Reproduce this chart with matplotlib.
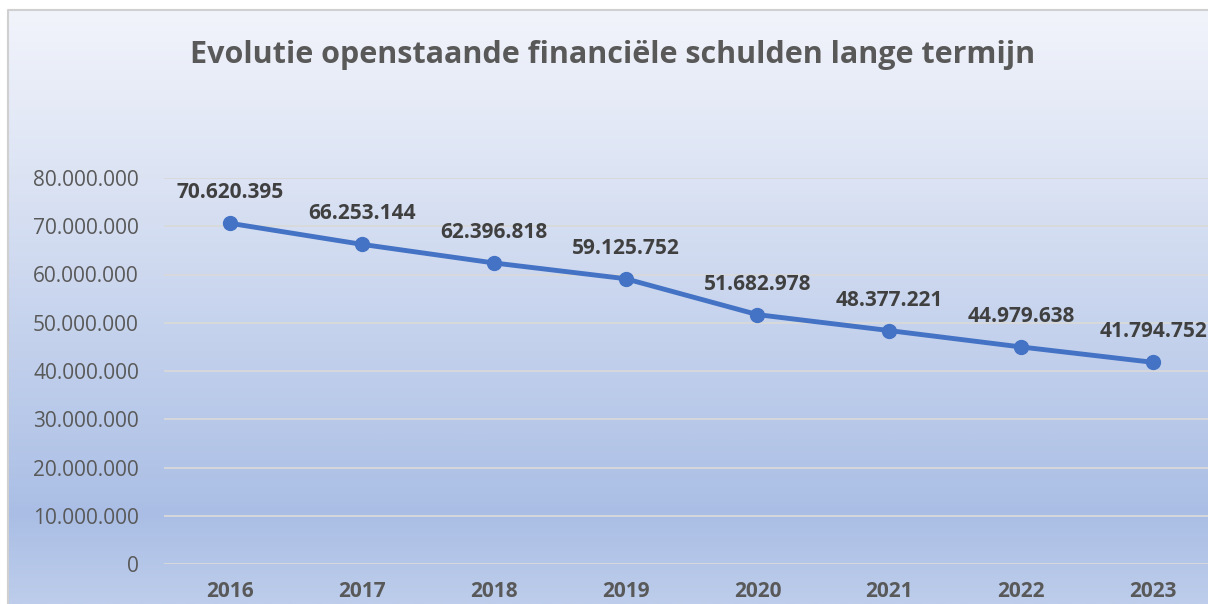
import numpy as np
import matplotlib
matplotlib.use("Agg")
import matplotlib.pyplot as plt
from matplotlib.colors import LinearSegmentedColormap
from matplotlib.ticker import FuncFormatter

years = ["2016", "2017", "2018", "2019", "2020", "2021", "2022", "2023"]
schulden = [70620395, 66253144, 62396818, 59125752, 51682978, 48377221, 44979638, 41794752]
y_ticks = [0, 10000000, 20000000, 30000000, 40000000, 50000000, 60000000, 70000000, 80000000]
title = "Evolutie openstaande financiële schulden lange termijn"


def nl_number(v, pos=None):
    return f"{int(v):,}".replace(",", ".")


plt.rcParams["font.family"] = ["Open Sans", "DejaVu Sans"]

W, H = 1208, 604
fig = plt.figure(figsize=(W / 100, H / 100), dpi=100)

# background gradient + chart border
bg = fig.add_axes([0, 0, 1, 1], zorder=0)
bg.set_xlim(0, W)
bg.set_ylim(H, 0)
bg.axis("off")
cmap = LinearSegmentedColormap.from_list(
    "bg", [(0.0, "#f2f4fb"), (0.3, "#dae2f3"), (0.85, "#aabee5"), (1.0, "#bdcdeb")])
grad = np.linspace(0, 1, 256).reshape(-1, 1)
bg.imshow(grad, cmap=cmap, extent=[8, W, H, 10], aspect="auto", interpolation="bilinear")
bg.plot([8, 8, W], [H, 10, 10], color="#d0d0d0", lw=1.5)

# plot area
left, right = 164 / W, 1219 / W
bottom, top = (H - 564) / H, (H - 178) / H
ax = fig.add_axes([left, bottom, right - left, top - bottom], zorder=1)
ax.patch.set_alpha(0)

x = np.arange(len(years))
ax.plot(x, schulden, color="#4472C4", lw=3.5, marker="o", markersize=10,
        solid_capstyle="round", zorder=3)
for xi, v in zip(x, schulden):
    ax.annotate(nl_number(v), (xi, v), xytext=(0, 22), textcoords="offset points",
                ha="center", va="center", fontsize=15, fontweight="bold",
                color="#404040", zorder=4, annotation_clip=False)

ax.set_xlim(-0.5, len(years) - 0.5)
ax.set_ylim(0, 80000000)
ax.set_yticks(y_ticks)
ax.yaxis.set_major_formatter(FuncFormatter(nl_number))
ax.set_xticks(x)
ax.set_xticklabels(years, fontweight="bold")
ax.tick_params(axis="y", length=0, pad=18, labelsize=15, labelcolor="#595959")
ax.tick_params(axis="x", length=0, pad=12, labelsize=15, labelcolor="#595959")
ax.grid(axis="y", color="#d9d9d9", lw=1.3)
ax.set_axisbelow(True)
for s in ax.spines.values():
    s.set_visible(False)

fig.text(613 / W, 1 - 55 / H, title, ha="center", va="center", fontsize=22,
         fontweight="bold", color="#595959")

fig.savefig("out.png", dpi=100)
